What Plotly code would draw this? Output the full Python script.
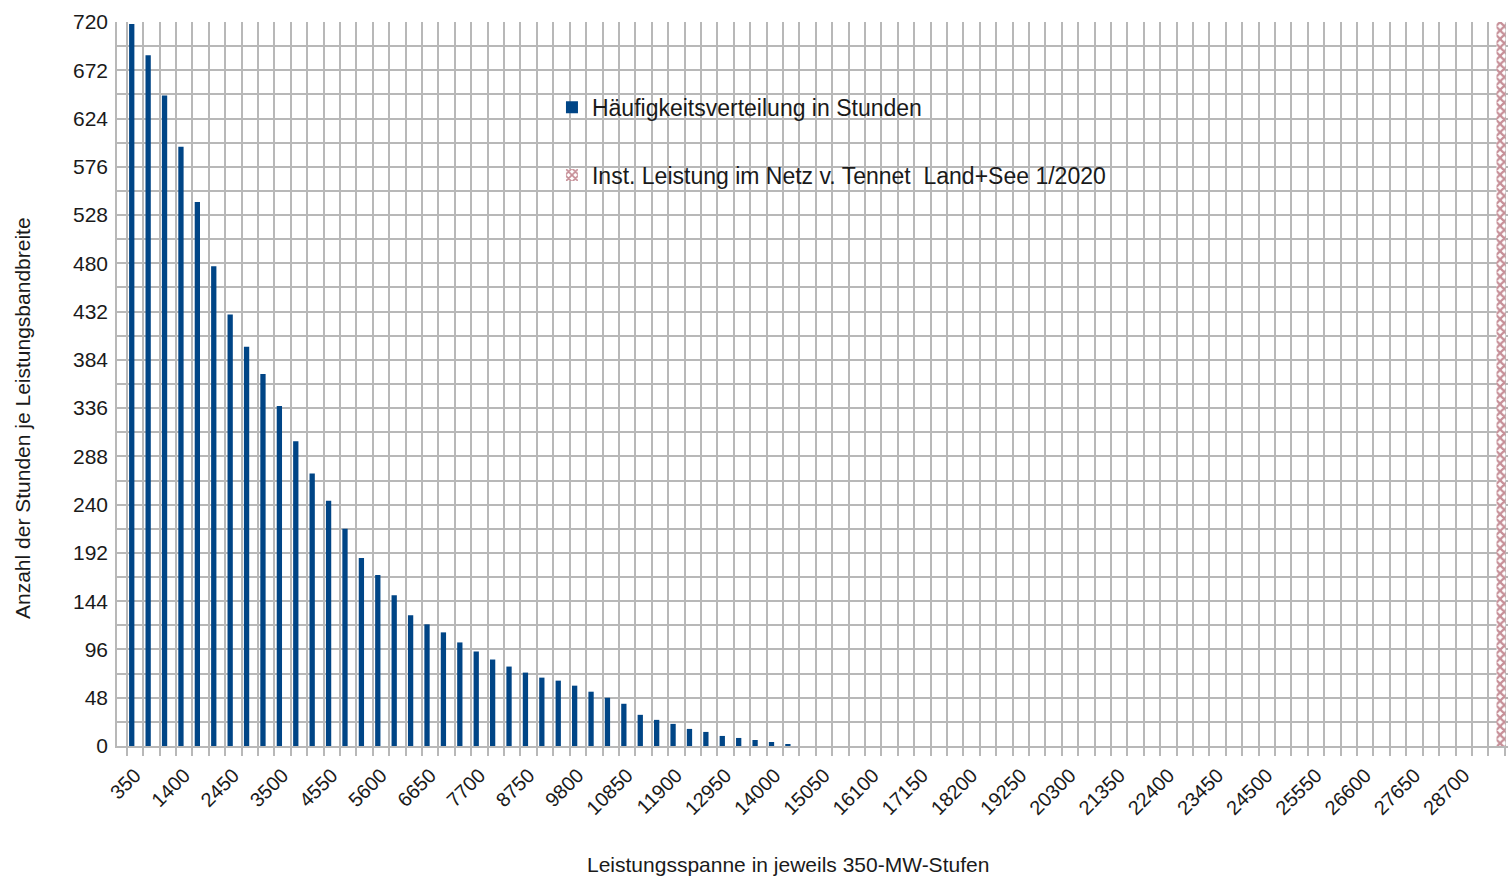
import plotly.graph_objects as go

# Leistungsstufen (MW), 350-MW-Schritte
stufen = [350 * k for k in range(1, 85)]

# Stunden je Leistungsband, danach nur noch 0
stunden = [718, 687, 647, 596, 541, 477, 429, 397, 370, 338,
           303, 271, 244, 216, 187, 170, 150, 130, 121, 113,
           103, 94, 86, 79, 73, 68, 65, 60, 54, 48,
           42, 31, 26, 22, 17, 14, 10, 8, 6, 4,
           2]
stunden = stunden + [0] * (len(stufen) - len(stunden))

# installierte Leistung Tennet (Balken ganz rechts)
inst_x = [29400]
inst_y = [720]

tick_labels = ["350", "1400", "2450", "3500", "4550", "5600", "6650", "7700",
               "8750", "9800", "10850", "11900", "12950", "14000", "15050",
               "16100", "17150", "18200", "19250", "20300", "21350", "22400",
               "23450", "24500", "25550", "26600", "27650", "28700"]

grid = "#b8b8b8"
font = "Liberation Sans, Arial, sans-serif"

fig = go.Figure()

fig.add_trace(go.Bar(
    x=stufen, y=stunden,
    name="Häufigkeitsverteilung in Stunden",
    width=113, offset=-126,
    marker=dict(color="#004586", line=dict(width=0)),
    legendgroup="a",
))

fig.add_trace(go.Bar(
    x=inst_x, y=inst_y,
    name="Inst. Leistung im Netz v. Tennet  Land+See 1/2020",
    width=190, offset=0,
    marker=dict(color="white", line=dict(width=0),
                pattern=dict(shape="x", fgcolor="#8e1f30", bgcolor="white",
                             size=6, solidity=0.6)),
    legendgroup="b",
))

fig.update_layout(
    width=1508, height=876,
    margin=dict(l=117, r=0, t=22, b=130),
    paper_bgcolor="white",
    plot_bgcolor="white",
    barmode="overlay",
    font=dict(family=font, size=20, color="#1a1a1a"),
    legend=dict(
        x=0.3127, y=0.912, xanchor="left", yanchor="top",
        bgcolor="rgba(0,0,0,0)",
        font=dict(size=23, color="#1a1a1a"),
        tracegroupgap=35,
    ),
    annotations=[
        dict(text="Leistungsspanne in jeweils 350-MW-Stufen",
             xref="paper", yref="paper", x=0.4824, y=-0.163,
             xanchor="center", yanchor="middle", showarrow=False,
             font=dict(size=21)),
        dict(text="Anzahl der Stunden je Leistungsbandbreite",
             xref="paper", yref="paper", x=-0.0683, y=0.453,
             xanchor="center", yanchor="middle", showarrow=False,
             textangle=-90, font=dict(size=21)),
    ],
)

fig.update_xaxes(
    range=[-34, 29645],
    tickmode="array",
    tickvals=[int(t) for t in tick_labels],
    ticktext=tick_labels,
    tickangle=-45,
    ticks="",
    ticklabelstandoff=8,
    showgrid=False,
    showline=True, linecolor=grid, linewidth=1.5,
    tickfont=dict(size=20),
    minor=dict(tickmode="linear", tick0=175, dtick=350,
               showgrid=True, gridcolor=grid, gridwidth=1.5,
               ticks="outside", ticklen=8, tickcolor=grid, tickwidth=1.5),
    zeroline=False,
    automargin=False,
)

fig.update_yaxes(
    range=[0, 720],
    dtick=48,
    showgrid=True, gridcolor=grid, gridwidth=1.5,
    showline=True, linecolor=grid, linewidth=1.5,
    ticks="", ticklabelstandoff=3,
    tickfont=dict(size=21),
    minor=dict(dtick=24, showgrid=True, gridcolor=grid, gridwidth=1.5),
    zeroline=False,
    automargin=False,
)

fig.write_html(
    "out.html",
    config={"displayModeBar": False},
    post_script="document.body.style.margin='0';"
                "document.documentElement.style.overflow='hidden';",
)
